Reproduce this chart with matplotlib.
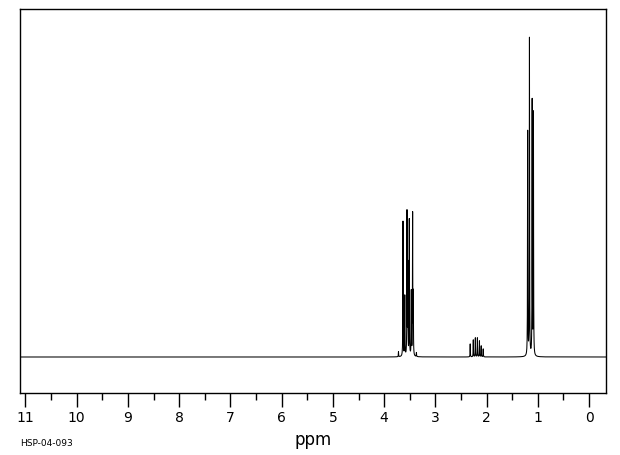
import numpy as np
import matplotlib
matplotlib.use("Agg")
import matplotlib.pyplot as plt
from matplotlib.ticker import MultipleLocator

# peak list: shift (ppm) and height (arbitrary units)
shift_ppm = [3.72, 3.632, 3.597, 3.554, 3.538, 3.509, 3.470, 3.444, 3.431, 3.37,
             2.32, 2.26, 2.22, 2.18, 2.14, 2.105, 2.066,
             1.199, 1.164, 1.111, 1.086]
height = [5, 135, 60, 143, 90, 136, 64, 141, 60, 4,
          13, 17, 19, 19, 16, 11, 8,
          224, 317, 254, 242]

tick_major = list(range(0, 12))
sample_id = "HSP-04-093"

# build the trace from the peak list (narrow lorentzian lines)
ppm = np.linspace(-0.4, 11.2, 23201)
hw = 0.003
trace = np.zeros_like(ppm)
for s, h in zip(shift_ppm, height):
    trace += h * hw**2 / ((ppm - s)**2 + hw**2)

fig = plt.figure(figsize=(6.2, 4.55), dpi=100)
ax = fig.add_axes([20/620, 62/455, 586/620, 384/455])
ax.plot(ppm, trace, color="black", lw=0.75)
ax.set_xlim(11.107, -0.33)
ax.set_ylim(-36, 348)

ax.set_yticks([])
ax.xaxis.set_major_locator(MultipleLocator(1))
ax.xaxis.set_minor_locator(MultipleLocator(0.5))
ax.set_xticks(tick_major)
ax.tick_params(axis="x", which="major", direction="out", length=10, width=1,
               labelsize=10, pad=3)
ax.tick_params(axis="x", which="minor", direction="out", length=5, width=1)
for sp in ax.spines.values():
    sp.set_linewidth(1)

ax.set_xlabel("ppm", fontsize=12, labelpad=4)
fig.text(20/620, 1 - 444/455, sample_id, fontsize=6.5, va="center", ha="left")

fig.savefig("out.png", dpi=100)
